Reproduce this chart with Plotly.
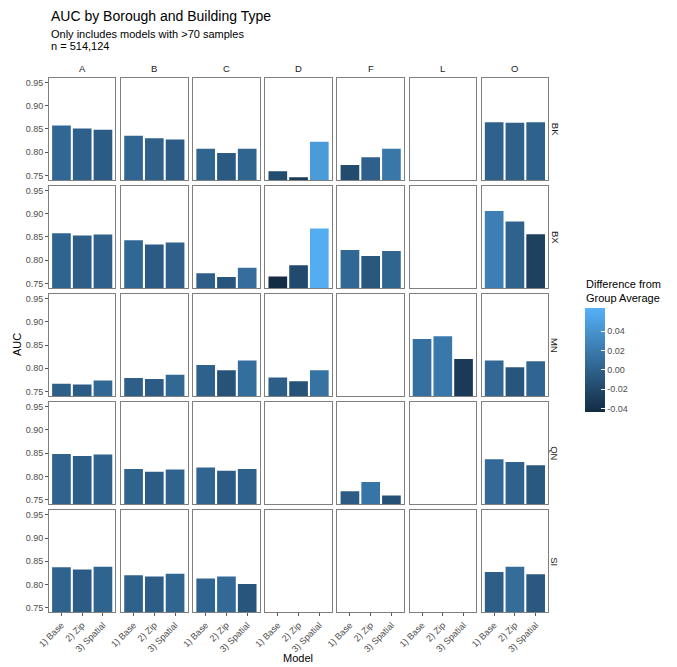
import plotly.graph_objects as go

# ---------------- data ----------------
boroughs = ["BK", "BX", "MN", "QN", "SI"]
building_types = ["A", "B", "C", "D", "F", "L", "O"]
models = ["1) Base", "2) Zip", "3) Spatial"]

# AUC per building type (A, B, C, D, F, L, O); None = no model (<70 samples)
auc_bk = [[0.857, 0.851, 0.848], [0.835, 0.830, 0.827], [0.807, 0.798, 0.807],
          [0.759, 0.746, 0.822], [0.772, 0.789, 0.807], None, [0.864, 0.863, 0.864]]
auc_bx = [[0.858, 0.853, 0.855], [0.843, 0.834, 0.838], [0.772, 0.764, 0.784],
          [0.765, 0.789, 0.868], [0.822, 0.809, 0.820], None, [0.906, 0.883, 0.856]]
auc_mn = [[0.767, 0.765, 0.774], [0.779, 0.777, 0.786], [0.807, 0.796, 0.817],
          [0.780, 0.772, 0.796], None, [0.863, 0.869, 0.820], [0.817, 0.802, 0.815]]
auc_qn = [[0.848, 0.844, 0.847], [0.816, 0.810, 0.815], [0.819, 0.812, 0.816],
          None, [0.768, 0.788, 0.759], None, [0.837, 0.831, 0.824]]
auc_si = [[0.837, 0.832, 0.838], [0.820, 0.817, 0.823], [0.813, 0.817, 0.801],
          None, None, None, [0.827, 0.838, 0.822]]
auc_by_borough = {"BK": auc_bk, "BX": auc_bx, "MN": auc_mn, "QN": auc_qn, "SI": auc_si}

y_ticks = [0.75, 0.80, 0.85, 0.90, 0.95]
cb_ticks = [-0.04, -0.02, 0.00, 0.02, 0.04]

# ---------------- geometry ----------------
W, H = 677, 667
col_left0, col_pitch, col_w = 49.0, 72.12, 66.4
row_top0, row_pitch, row_h = 77.7, 108.1, 102.3
FONT = "Liberation Sans, Arial, sans-serif"
GREY_TXT = "#4d4d4d"
FRAME = "#7f7f7f"

fig = go.Figure()
layout = dict(
    width=W, height=H, margin=dict(l=0, r=0, t=0, b=0, autoexpand=False),
    paper_bgcolor="white", plot_bgcolor="white",
    font=dict(family=FONT, color="#1a1a1a"),
    showlegend=False,
    coloraxis=dict(
        colorscale=[[0, "#132B43"], [1, "#56B1F7"]],
        cmin=-0.043, cmax=0.064,
        colorbar=dict(
            x=585 / W, xanchor="left", xpad=0,
            y=1 - 307.7 / H, yanchor="top", ypad=0,
            thickness=20, len=104, lenmode="pixels",
            outlinewidth=0,
            tickvals=cb_ticks, ticktext=[f"{v:.2f}" for v in cb_ticks],
            ticks="inside", ticklen=4, tickcolor="white",
            tickfont=dict(size=9, color=GREY_TXT, family=FONT),
            title=dict(text=""),
        ),
    ),
)

annotations = []
x_pos = list(range(len(models)))

for r, b in enumerate(boroughs):
    for c, bt in enumerate(building_types):
        k = r * len(building_types) + c + 1
        xname = "x" if k == 1 else f"x{k}"
        yname = "y" if k == 1 else f"y{k}"
        left = col_left0 + c * col_pitch
        top = row_top0 + r * row_pitch
        layout["xaxis" if k == 1 else f"xaxis{k}"] = dict(
            domain=[left / W, (left + col_w) / W], anchor=yname,
            range=[-0.6, len(models) - 0.4],
            tickvals=x_pos, ticktext=models,
            showticklabels=(r == len(boroughs) - 1),
            ticks="outside" if r == len(boroughs) - 1 else "",
            ticklen=3, tickcolor="#555555", tickangle=-45,
            tickfont=dict(size=9, color=GREY_TXT),
            showline=True, mirror=True, linecolor=FRAME, linewidth=1,
            showgrid=False, zeroline=False, fixedrange=True,
        )
        layout["yaxis" if k == 1 else f"yaxis{k}"] = dict(
            domain=[1 - (top + row_h) / H, 1 - top / H], anchor=xname,
            range=[0.74, 0.96],
            tickvals=y_ticks, ticktext=[f"{v:.2f}" for v in y_ticks],
            showticklabels=(c == 0),
            ticks="outside" if c == 0 else "",
            ticklen=3, tickcolor="#555555",
            tickfont=dict(size=9, color=GREY_TXT),
            showline=True, mirror=True, linecolor=FRAME, linewidth=1,
            showgrid=False, zeroline=False, fixedrange=True,
        )
        vals = auc_by_borough[b][c]
        if vals is not None:
            mean = sum(vals) / len(vals)
            diffs = [v - mean for v in vals]
            fig.add_trace(go.Bar(
                x=x_pos, y=vals, width=0.9,
                marker=dict(color=diffs, coloraxis="coloraxis", line=dict(width=0)),
                xaxis=xname, yaxis=yname,
                hovertext=[f"{b} / {bt} / {m}" for m in models],
            ))
        else:
            # empty facet: keep the panel frame visible
            fig.add_trace(go.Bar(
                x=x_pos, y=[None] * len(models), width=0.9,
                xaxis=xname, yaxis=yname, hoverinfo="skip",
            ))
        if r == 0:
            annotations.append(dict(
                text=bt, x=(left + col_w / 2) / W, y=1 - 68 / H,
                xref="paper", yref="paper", showarrow=False,
                xanchor="center", yanchor="middle",
                font=dict(size=9.5, color="#1a1a1a")))
    top = row_top0 + r * row_pitch
    annotations.append(dict(
        text=b, x=555 / W, y=1 - (top + row_h / 2) / H,
        xref="paper", yref="paper", showarrow=False, textangle=90,
        xanchor="center", yanchor="middle",
        font=dict(size=9.5, color="#1a1a1a")))

# titles
annotations += [
    dict(text="AUC by Borough and Building Type", x=49 / W, y=1 - 16 / H,
         xref="paper", yref="paper", showarrow=False, xanchor="left", yanchor="middle",
         font=dict(size=14, color="black")),
    dict(text="Only includes models with >70 samples", x=49 / W, y=1 - 34 / H,
         xref="paper", yref="paper", showarrow=False, xanchor="left", yanchor="middle",
         font=dict(size=11, color="black")),
    dict(text="n = 514,124", x=49 / W, y=1 - 45.5 / H,
         xref="paper", yref="paper", showarrow=False, xanchor="left", yanchor="middle",
         font=dict(size=11, color="black")),
    dict(text="AUC", x=17 / W, y=1 - 345 / H, textangle=-90,
         xref="paper", yref="paper", showarrow=False, xanchor="center", yanchor="middle",
         font=dict(size=11, color="black")),
    dict(text="Model", x=298 / W, y=1 - 658 / H,
         xref="paper", yref="paper", showarrow=False, xanchor="center", yanchor="middle",
         font=dict(size=11, color="black")),
    dict(text="Difference from<br>Group Average", x=584 / W, y=1 - 291 / H,
         xref="paper", yref="paper", showarrow=False, xanchor="left", yanchor="middle",
         align="left", font=dict(size=11, color="black")),
]
layout["annotations"] = annotations
fig.update_layout(**layout)
fig.write_html(
    "out.html",
    config={"displayModeBar": False},
    post_script="document.body.style.margin='0';document.body.style.overflow='hidden';",
)
